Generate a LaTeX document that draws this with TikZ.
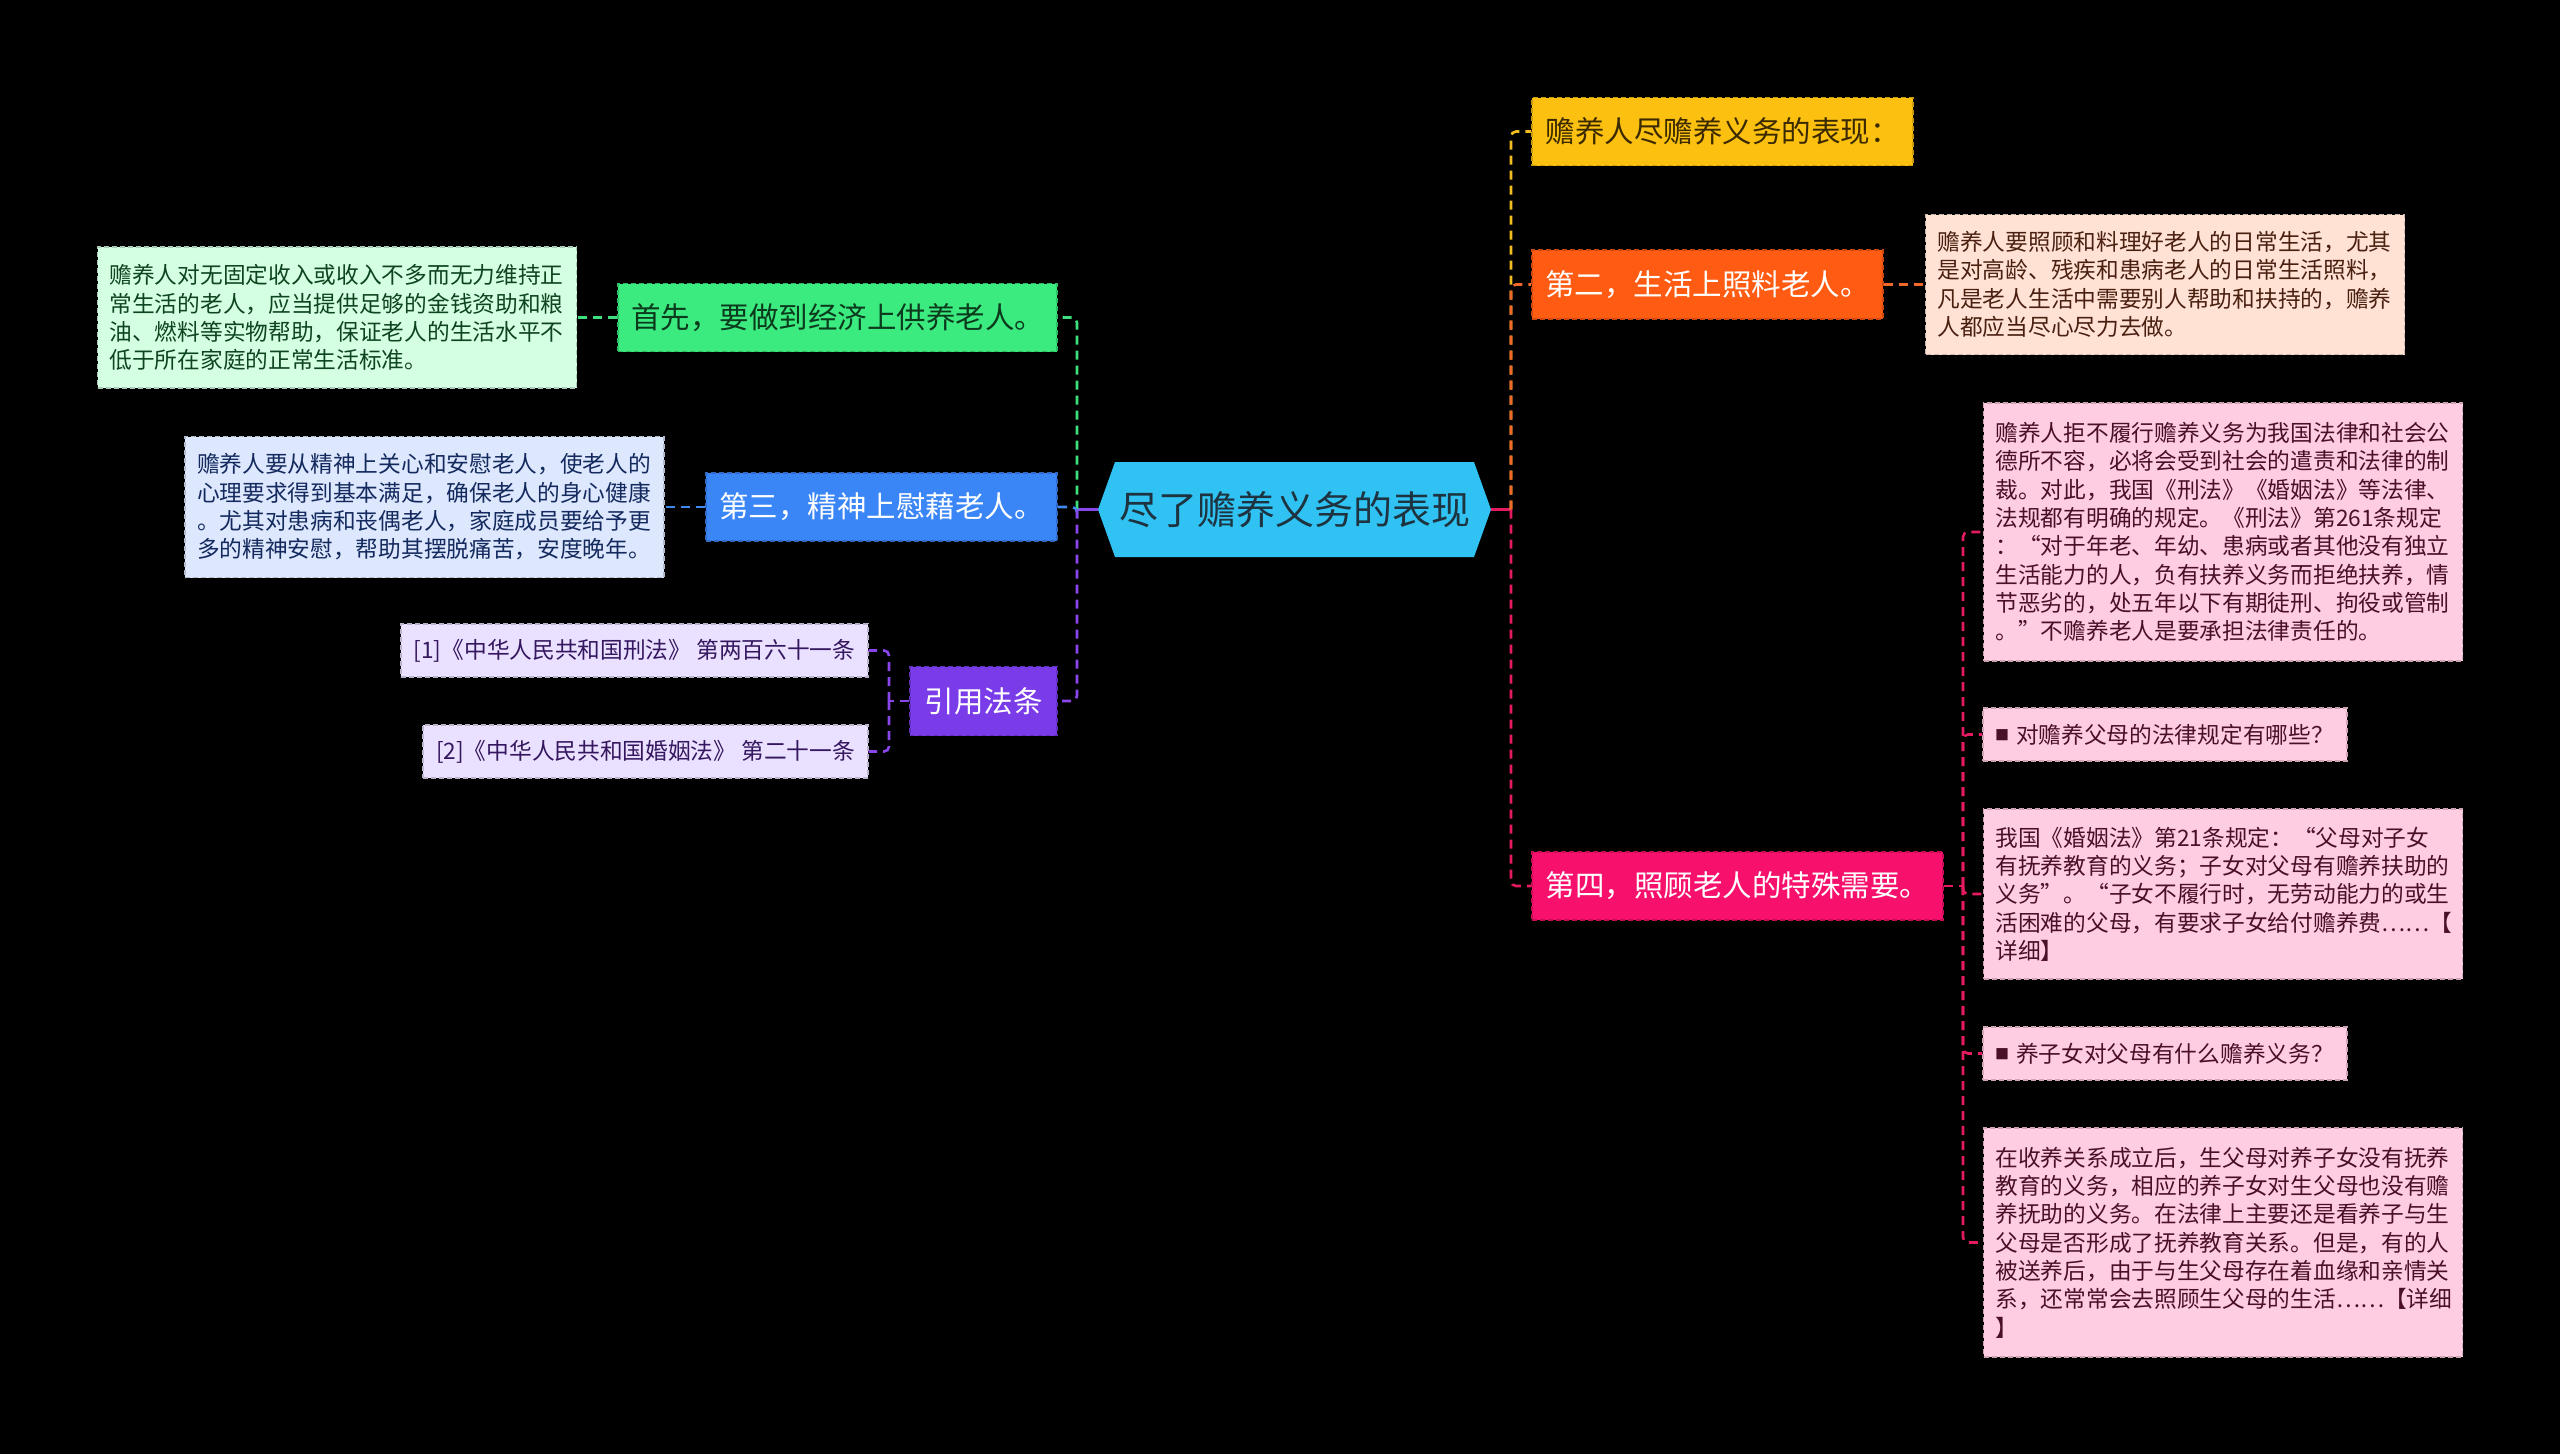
\documentclass[tikz,border=0pt]{standalone}
\usepackage{fontspec}
\setmainfont{Noto Sans CJK SC}
\usetikzlibrary{calc}

\definecolor{cCenter}{HTML}{31C2F4}
\definecolor{cCenterTxt}{HTML}{1D3440}
\definecolor{cYellow}{HTML}{FCC010}
\definecolor{cOrange}{HTML}{FF5B12}
\definecolor{cPink}{HTML}{F7106C}
\definecolor{cGreen}{HTML}{3CEB80}
\definecolor{cBlue}{HTML}{3B86F6}
\definecolor{cPurple}{HTML}{7A3BE9}
\definecolor{cPeach}{HTML}{FFE2D4}
\definecolor{cPinkL}{HTML}{FFCDE2}
\definecolor{cMint}{HTML}{D5FFE2}
\definecolor{cBlueL}{HTML}{DDE8FE}
\definecolor{cLav}{HTML}{EAE0FF}
\definecolor{tYellow}{HTML}{3B2A00}
\definecolor{tGreen}{HTML}{0B3A1C}
\definecolor{tPeach}{HTML}{4A2010}
\definecolor{tPinkL}{HTML}{4A1028}
\definecolor{tMint}{HTML}{0E4520}
\definecolor{tBlueL}{HTML}{142A5E}
\definecolor{tLav}{HTML}{35175F}
\definecolor{lYellow}{HTML}{F2BD20}
\definecolor{lOrange}{HTML}{F2672A}
\definecolor{lPink}{HTML}{E51B62}
\definecolor{lGreen}{HTML}{3DE07D}
\definecolor{lBlue}{HTML}{3F89F0}
\definecolor{lPurple}{HTML}{8A45EC}

\tikzset{
  box/.style={rectangle, draw=#1!80!black, fill=#1, dash pattern=on 5pt off 3pt, line width=1.4pt, inner ysep=0pt, anchor=center},
  lvone/.style={box=#1, inner xsep=0pt, align=center, font=\fontsize{29.5}{35}\selectfont},
  detail/.style={box=#1, inner xsep=12pt, align=left, text width=455pt, font=\fontsize{22.7}{28.33}\selectfont},
  small/.style={box=#1, inner xsep=12pt, align=left, font=\fontsize{22.7}{28.33}\selectfont},
  conn/.style={line width=2.6pt, dash pattern=on 9pt off 6pt, rounded corners=5pt},
  stem/.style={line width=2.6pt},
}
\newcommand{\sqbul}{\raisebox{3pt}{\fontsize{14}{14}\selectfont ■}\hspace{7pt}}

\begin{document}
\begin{tikzpicture}[x=1pt,y=-1pt]
\useasboundingbox (0,0) rectangle (2560,1454);
\fill[black] (0,0) rectangle (2560,1454);

% center
\fill[cCenter] (1098,509.5) -- (1115,462) -- (1474,462) -- (1491,509.5) -- (1474,557) -- (1115,557) -- cycle;
\node[font=\fontsize{39}{46}\selectfont, text=cCenterTxt, minimum width=393pt, minimum height=95pt, inner sep=0pt] (c) at (1294.5,509.5) {尽了赡养义务的表现};

\coordinate (rt) at (1511,509.5);
\coordinate (lt) at (1077,509.5);
\coordinate (pt) at (1963,886);
\coordinate (ut) at (889,701);

% right level one
\node[lvone=cYellow, text=tYellow, minimum width=381pt, minimum height=68pt] (y1) at (1722.5,131.5) {赡养人尽赡养义务的表现：};
\node[lvone=cOrange, text=white, minimum width=351pt, minimum height=69pt] (o1) at (1707.5,284.5) {第二，生活上照料老人。};
\node[lvone=cPink, text=white, minimum width=411pt, minimum height=68pt] (p1) at (1737.5,886) {第四，照顾老人的特殊需要。};

% left level one
\node[lvone=cGreen, text=tGreen, minimum width=439pt, minimum height=68pt] (g1) at (837.5,317.5) {首先，要做到经济上供养老人。};
\node[lvone=cBlue, text=white, minimum width=351pt, minimum height=68pt] (b1) at (881.5,507) {第三，精神上慰藉老人。};
\node[lvone=cPurple, text=white, minimum width=147pt, minimum height=69pt] (u1) at (983.5,701) {引用法条};

% details
\node[detail=cPeach, text=tPeach, minimum height=140pt] (o1d) at (2165,284.5) {赡养人要照顾和料理好老人的日常生活，尤其\\是对高龄、残疾和患病老人的日常生活照料，\\凡是老人生活中需要别人帮助和扶持的，赡养\\人都应当尽心尽力去做。};

\node[detail=cMint, text=tMint, minimum height=141pt] (g1d) at (337,317.5) {赡养人对无固定收入或收入不多而无力维持正\\常生活的老人，应当提供足够的金钱资助和粮\\油、燃料等实物帮助，保证老人的生活水平不\\低于所在家庭的正常生活标准。};

\node[detail=cBlueL, text=tBlueL, minimum height=141pt] (b1d) at (424.5,507) {赡养人要从精神上关心和安慰老人，使老人的\\心理要求得到基本满足，确保老人的身心健康\\。尤其对患病和丧偶老人，家庭成员要给予更\\多的精神安慰，帮助其摆脱痛苦，安度晚年。};

\node[detail=cPinkL, text=tPinkL, minimum height=258pt] (d1) at (2223,532) {赡养人拒不履行赡养义务为我国法律和社会公\\德所不容，必将会受到社会的遣责和法律的制\\裁。对此，我国《刑法》《婚姻法》等法律、\\法规都有明确的规定。《刑法》第261条规定\\：“对于年老、年幼、患病或者其他没有独立\\生活能力的人，负有扶养义务而拒绝扶养，情\\节恶劣的，处五年以下有期徒刑、拘役或管制\\。”不赡养老人是要承担法律责任的。};

\node[small=cPinkL, text=tPinkL, minimum width=364pt, minimum height=53pt, text width=340pt] (d2) at (2165,734.5) {\sqbul 对赡养父母的法律规定有哪些？};

\node[detail=cPinkL, text=tPinkL, minimum height=170pt] (d3) at (2223,894) {我国《婚姻法》第21条规定：“父母对子女\\有抚养教育的义务；子女对父母有赡养扶助的\\义务”。“子女不履行时，无劳动能力的或生\\活困难的父母，有要求子女给付赡养费……【\\详细】};

\node[small=cPinkL, text=tPinkL, minimum width=364pt, minimum height=53pt, text width=340pt] (d4) at (2165,1053.5) {\sqbul 养子女对父母有什么赡养义务？};

\node[detail=cPinkL, text=tPinkL, minimum height=229pt] (d5) at (2223,1242.5) {在收养关系成立后，生父母对养子女没有抚养\\教育的义务，相应的养子女对生父母也没有赡\\养抚助的义务。在法律上主要还是看养子与生\\父母是否形成了抚养教育关系。但是，有的人\\被送养后，由于与生父母存在着血缘和亲情关\\系，还常常会去照顾生父母的生活……【详细\\】};

\node[box=cLav, text=tLav, inner xsep=0pt, align=center, font=\fontsize{22.7}{28.33}\selectfont, minimum width=467pt, minimum height=53pt] (r1) at (634.5,650.5) {[1]《中华人民共和国刑法》 第两百六十一条};
\node[box=cLav, text=tLav, inner xsep=0pt, align=center, font=\fontsize{22.7}{28.33}\selectfont, minimum width=445pt, minimum height=53pt] (r2) at (645.5,751.5) {[2]《中华人民共和国婚姻法》 第二十一条};

% connectors right
\draw[stem, lPink] (c.east) -- (rt);
\draw[conn, lYellow] (rt) |- (y1.west);
\draw[conn, lOrange] (rt) |- (o1.west);
\draw[conn, lPink] (rt) |- (p1.west);
\draw[conn, lOrange] (o1.east) -- (o1d.west);
\draw[conn, lPink] (p1.east) -- (pt);
\draw[conn, lPink] (pt) |- (d1.west);
\draw[conn, lPink] (pt) |- (d2.west);
\draw[conn, lPink] (pt) |- (d3.west);
\draw[conn, lPink] (pt) |- (d4.west);
\draw[conn, lPink] (pt) |- (d5.west);

% connectors left
\draw[stem, lPurple] (c.west) -- (lt);
\draw[conn, lGreen] (lt) |- (g1.east);
\draw[conn, lBlue] (lt) |- (b1.east);
\draw[conn, lPurple] (lt) |- (u1.east);
\draw[conn, lGreen] (g1.west) -- (g1d.east);
\draw[conn, lBlue] (b1.west) -- (b1d.east);
\draw[conn, lPurple] (u1.west) -- (ut);
\draw[conn, lPurple] (ut) |- (r1.east);
\draw[conn, lPurple] (ut) |- (r2.east);
\end{tikzpicture}
\end{document}
